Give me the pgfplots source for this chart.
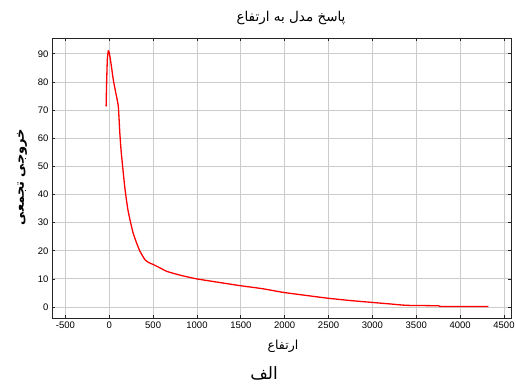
\documentclass[border=0pt]{standalone}
\usepackage{fontspec}
\usepackage{pgfplots}
\pgfplotsset{compat=1.18}
\setmainfont{Liberation Sans}
\newfontfamily\arabicfont[Script=Arabic]{DejaVu Sans}
\TeXXeTstate=1
\begin{document}
\begin{tikzpicture}
\useasboundingbox (-52pt,-65pt) rectangle (464pt,318pt);
\begin{axis}[
  at={(0pt,0pt)}, anchor=south west,
  scale only axis, width=459pt, height=280pt,
  xmin=-653, xmax=4580, ymin=-3.9, ymax=95.6,
  xtick={-500,0,...,4500}, ytick={0,10,...,90},
  grid=major, grid style={black!20, line width=0.8pt},
  tick align=inside, major tick length=3pt,
  tick style={black!85, line width=0.7pt},
  axis line style={black!85, line width=0.8pt},
  ticklabel style={font=\fontsize{9.5}{11}\selectfont},
  /pgf/number format/assume math mode=true,
  /pgf/number format/set thousands separator={},
  scaled ticks=false,
]
\addplot[red, line width=1.3pt, smooth, tension=0.3] coordinates {
(-36,71.3) (-30,80) (-22,88) (-11,91.0) (0,90.3) (20,86.5) (46,80.7) (75,76) (103,71.3)
(120,62) (135,55.5) (160,47.6) (180,41.7) (210,35) (236,31) (270,26.5) (312,22.7)
(350,19.8) (407,16.8) (450,15.8) (502,15.1) (560,14.2) (654,12.7) (750,11.8)
(850,11) (997,10.0) (1200,9.0) (1490,7.6) (1750,6.5) (1984,5.2) (2250,4.1) (2500,3.1)
(2750,2.3) (3010,1.6) (3200,1.1) (3391,0.6) (3750,0.45) (3790,0.2) (4322,0.2)
};
\end{axis}
\node at (239pt,300pt) {\arabicfont\fontsize{13.5}{15}\selectfont\beginR پاسخ  مدل به ارتفاع\endR};
\node at (231pt,-28pt) {\arabicfont\fontsize{12.5}{14}\selectfont\beginR ارتفاع\endR};
\node at (212pt,-55pt) {\arabicfont\fontsize{17}{19}\selectfont\beginR الف\endR};
\node[rotate=90] at (-30pt,141pt) {\arabicfont\bfseries\fontsize{13}{15}\selectfont\beginR خروجی  تجمعی\endR};
\end{tikzpicture}
\end{document}
